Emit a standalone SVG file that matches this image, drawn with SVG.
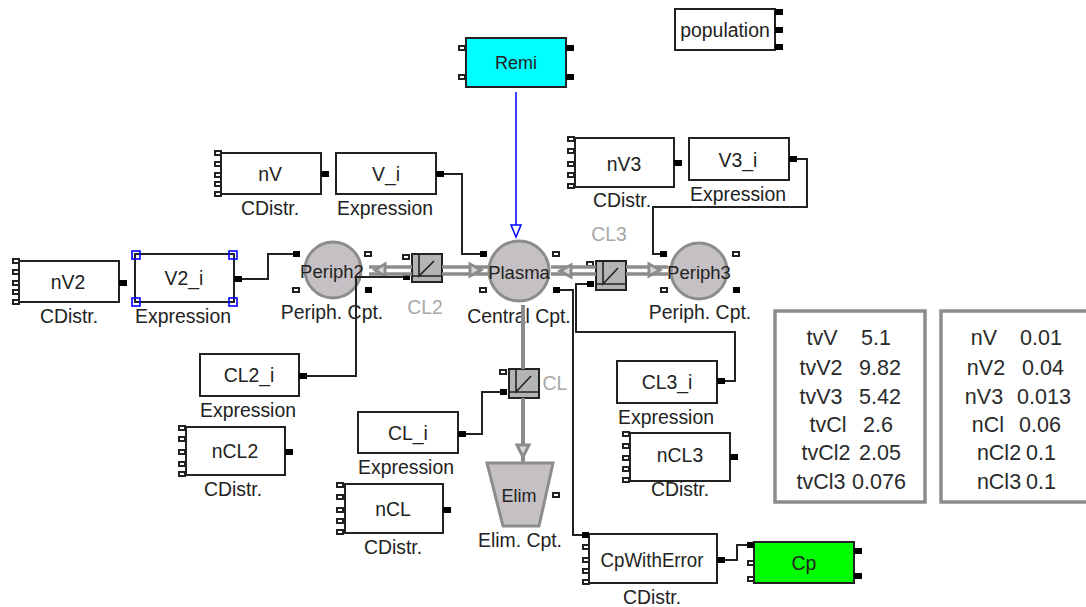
<svg xmlns="http://www.w3.org/2000/svg" width="1086" height="607" viewBox="0 0 1086 607">
<style>
text{font-family:"Liberation Sans",Arial,sans-serif;font-size:19.4px;fill:#222;text-anchor:middle}
.g{fill:#a8a8a8}
.box{fill:#fff;stroke:#222;stroke-width:2}
.cpt{fill:#c4c0c4;stroke:#8c8c8c;stroke-width:3}
.pw{fill:#fff;stroke:#222;stroke-width:2}
.pb{fill:#000}
.wire{fill:none;stroke:#222;stroke-width:2}
.flow{fill:none;stroke:#8c8c8c;stroke-width:3.4}
.head{fill:#d8d8d8;stroke:#8c8c8c;stroke-width:3}
.blk{fill:#b4b4b4;stroke:#222;stroke-width:2}
.sym{fill:none;stroke:#222;stroke-width:1.6}
.frame{fill:#fff;stroke:#8c8c8c;stroke-width:3.5}
.sel{fill:none;stroke:#0000ff;stroke-width:1.6}
.t text{font-size:21.5px;fill:#2a2a2a}
</style>
<g id="Remi"><rect class="box" x="466" y="38" width="100" height="49" style="fill:#00ffff"/><rect class="pw" x="459" y="46" width="6" height="4"/><rect class="pw" x="459" y="75" width="6" height="4"/><rect class="pb" x="566" y="45" width="8" height="6"/><rect class="pb" x="566" y="74" width="8" height="6"/><text x="516" y="69" style="font-size:18px">Remi</text></g>
<g id="population"><rect class="box" x="675" y="9" width="100" height="41"/><rect class="pb" x="775" y="9" width="8" height="6"/><rect class="pb" x="775" y="27" width="8" height="6"/><rect class="pb" x="775" y="44" width="8" height="6"/><text x="725" y="37">population</text></g>
<g id="nV"><rect class="box" x="221" y="153" width="100" height="41"/><rect class="pw" x="215" y="151" width="6" height="4"/><rect class="pw" x="215" y="162" width="6" height="4"/><rect class="pw" x="215" y="173" width="6" height="4"/><rect class="pw" x="215" y="182" width="6" height="4"/><rect class="pw" x="215" y="192" width="6" height="4"/><rect class="pb" x="321" y="171" width="8" height="6"/><text x="270" y="181">nV</text><text x="270" y="215">CDistr.</text></g>
<g id="V_i"><rect class="box" x="336" y="153" width="100" height="41"/><rect class="pb" x="436" y="171" width="8" height="6"/><text x="386" y="181">V_i</text><text x="385" y="215">Expression</text></g>
<g id="nV2"><rect class="box" x="19" y="261" width="100" height="41"/><rect class="pw" x="13" y="259" width="6" height="4"/><rect class="pw" x="13" y="270" width="6" height="4"/><rect class="pw" x="13" y="281" width="6" height="4"/><rect class="pw" x="13" y="290" width="6" height="4"/><rect class="pw" x="13" y="300" width="6" height="4"/><rect class="pb" x="119" y="280" width="8" height="6"/><text x="68" y="289">nV2</text><text x="69" y="323">CDistr.</text></g>
<g id="V2_i"><rect class="box" x="135" y="254" width="99" height="48"/><rect class="sel" x="132" y="251" width="8" height="8"/><rect class="sel" x="229" y="251" width="8" height="8"/><rect class="sel" x="132" y="298" width="8" height="8"/><rect class="sel" x="229" y="298" width="8" height="8"/><rect class="pb" x="234" y="276" width="8" height="6"/><text x="184" y="285">V2_i</text><text x="183" y="323">Expression</text></g>
<g id="Periph2"><circle class="cpt" cx="333" cy="270" r="28"/><rect class="pb" x="293" y="251" width="7" height="6"/><rect class="pw" x="365" y="252" width="6" height="4"/><rect class="pw" x="293" y="288" width="6" height="4"/><rect class="pb" x="365" y="287" width="7" height="6"/><text x="332" y="278" style="font-size:18.5px">Periph2</text><text x="332" y="319">Periph. Cpt.</text></g>
<g id="Plasma"><circle class="cpt" cx="519" cy="271" r="30"/><rect class="pb" x="480" y="251" width="7" height="6"/><rect class="pw" x="553" y="252" width="6" height="4"/><rect class="pw" x="480" y="288" width="6" height="4"/><rect class="pb" x="553" y="287" width="7" height="6"/><text x="519" y="279" style="font-size:18.5px">Plasma</text><text x="519" y="323">Central Cpt.</text></g>
<g id="Periph3"><circle class="cpt" cx="699" cy="271" r="28"/><rect class="pb" x="660" y="251" width="7" height="6"/><rect class="pw" x="733" y="252" width="6" height="4"/><rect class="pw" x="661" y="288" width="6" height="4"/><rect class="pb" x="733" y="287" width="7" height="6"/><text x="699" y="279" style="font-size:18.5px">Periph3</text><text x="700" y="319">Periph. Cpt.</text></g>
<g id="nV3"><rect class="box" x="575" y="138" width="99" height="49"/><rect class="pw" x="568" y="137" width="6" height="4"/><rect class="pw" x="568" y="149" width="6" height="4"/><rect class="pw" x="568" y="162" width="6" height="4"/><rect class="pw" x="568" y="173" width="6" height="4"/><rect class="pw" x="568" y="184" width="6" height="4"/><rect class="pb" x="674" y="160" width="8" height="6"/><text x="624" y="171">nV3</text><text x="622" y="207">CDistr.</text></g>
<g id="V3_i"><rect class="box" x="689" y="138" width="100" height="42"/><rect class="pb" x="789" y="156" width="8" height="6"/><text x="738" y="167">V3_i</text><text x="738" y="201">Expression</text></g>
<g id="CL2"><rect class="blk" x="412" y="254" width="30" height="28"/><path class="sym" d="M412 276H442M419 254V276L434 261"/><rect class="pw" x="403" y="255" width="6" height="4"/><rect class="pb" x="403" y="274" width="7" height="6"/><text class="g" x="425" y="314">CL2</text></g>
<g id="CL3"><rect class="blk" x="596" y="261" width="30" height="29"/><path class="sym" d="M596 284H626M603 261V284L618 268"/><rect class="pw" x="587" y="262" width="6" height="4"/><rect class="pb" x="587" y="281" width="7" height="6"/><text class="g" x="609" y="241">CL3</text></g>
<g id="CL"><rect class="blk" x="509" y="369" width="30" height="29"/><path class="sym" d="M509 392H539M516 369V392L531 376"/><rect class="pw" x="500" y="370" width="6" height="4"/><rect class="pb" x="500" y="389" width="7" height="6"/><text class="g" x="555" y="390">CL</text></g>
<g id="CL2_i"><rect class="box" x="200" y="354" width="99" height="42"/><rect class="pb" x="299" y="373" width="8" height="6"/><text x="249" y="382">CL2_i</text><text x="248" y="417">Expression</text></g>
<g id="nCL2"><rect class="box" x="186" y="427" width="99" height="48"/><rect class="pw" x="179" y="426" width="6" height="4"/><rect class="pw" x="179" y="437" width="6" height="4"/><rect class="pw" x="179" y="450" width="6" height="4"/><rect class="pw" x="179" y="462" width="6" height="4"/><rect class="pw" x="179" y="472" width="6" height="4"/><rect class="pb" x="285" y="449" width="8" height="6"/><text x="235" y="458">nCL2</text><text x="233" y="496">CDistr.</text></g>
<g id="CL_i"><rect class="box" x="358" y="412" width="100" height="41"/><rect class="pb" x="458" y="431" width="8" height="6"/><text x="408" y="440">CL_i</text><text x="406" y="474">Expression</text></g>
<g id="nCL"><rect class="box" x="345" y="484" width="98" height="49"/><rect class="pw" x="337" y="483" width="6" height="4"/><rect class="pw" x="337" y="495" width="6" height="4"/><rect class="pw" x="337" y="508" width="6" height="4"/><rect class="pw" x="337" y="519" width="6" height="4"/><rect class="pw" x="337" y="530" width="6" height="4"/><rect class="pb" x="443" y="507" width="8" height="6"/><text x="393" y="516">nCL</text><text x="393" y="554">CDistr.</text></g>
<g id="Elim"><path class="cpt" d="M487 463H553L539 526H503Z"/><rect class="pw" x="553" y="493" width="6" height="4"/><text x="519" y="502" style="font-size:18px">Elim</text><text x="520" y="547">Elim. Cpt.</text></g>
<g id="CL3_i"><rect class="box" x="617" y="361" width="100" height="42"/><rect class="pb" x="717" y="378" width="8" height="6"/><text x="667" y="389">CL3_i</text><text x="666" y="424">Expression</text></g>
<g id="nCL3"><rect class="box" x="630" y="433" width="100" height="48"/><rect class="pw" x="623" y="432" width="6" height="4"/><rect class="pw" x="623" y="444" width="6" height="4"/><rect class="pw" x="623" y="456" width="6" height="4"/><rect class="pw" x="623" y="467" width="6" height="4"/><rect class="pw" x="623" y="478" width="6" height="4"/><rect class="pb" x="730" y="454" width="8" height="6"/><text x="680" y="462">nCL3</text><text x="680" y="496">CDistr.</text></g>
<g id="CpWithError"><rect class="box" x="589" y="534" width="128" height="49"/><rect class="pb" x="582" y="532" width="7" height="6"/><rect class="pw" x="583" y="545" width="6" height="4"/><rect class="pw" x="583" y="558" width="6" height="4"/><rect class="pw" x="583" y="569" width="6" height="4"/><rect class="pw" x="583" y="580" width="6" height="4"/><rect class="pb" x="717" y="557" width="8" height="6"/><text x="652" y="567" textLength="103" lengthAdjust="spacingAndGlyphs">CpWithError</text><text x="652" y="604">CDistr.</text></g>
<g id="Cp"><rect class="box" x="754" y="542" width="100" height="41" style="fill:#00ff00"/><rect class="pb" x="747" y="542" width="7" height="6"/><rect class="pw" x="748" y="561" width="6" height="4"/><rect class="pw" x="748" y="577" width="6" height="4"/><rect class="pb" x="854" y="548" width="8" height="6"/><rect class="pb" x="854" y="573" width="8" height="6"/><text x="804" y="570">Cp</text></g>
<g id="connectors">
<path class="flow" d="M369 267H412M369 274H412M442 267H488M442 274H488"/>
<path class="head" d="M385 264L375 270L385 276Z"/>
<path class="head" d="M470 264L481 270L470 276Z"/>
<path class="flow" d="M551 267H596M551 274H596M626 267H668M626 274H668"/>
<path class="head" d="M571 265L560 271L571 277Z"/>
<path class="head" d="M649 264L660 270L649 276Z"/>
<path class="flow" d="M523 305V369M523 398V463" style="stroke-width:4"/>
<path class="head" d="M517 445H529L523 457Z"/>
<path d="M516 92V226" fill="none" stroke="#0000ff" stroke-width="1.5"/>
<path d="M511 225H521L516 237Z" fill="#fff" stroke="#0000ff" stroke-width="1.5"/>
<path class="wire" d="M242 279H268V254H293"/>
<path class="wire" d="M444 174H462V254H480"/>
<path class="wire" d="M403 277H356V376H307"/>
<path class="wire" d="M797 159H807V207H653V254H660"/>
<path class="wire" d="M587 284H576V332H735V381H725"/>
<path class="wire" d="M560 290H573V535H582"/>
<path class="wire" d="M500 392H482V434H466"/>
<path class="wire" d="M725 560H737V545H747"/>
</g>
<g id="table-tv" class="t"><rect class="frame" x="775" y="311" width="150" height="191"/>
<text y="345"><tspan x="822">tvV</tspan><tspan x="876">5.1</tspan></text>
<text y="375"><tspan x="821">tvV2</tspan><tspan x="880">9.82</tspan></text>
<text y="404"><tspan x="821">tvV3</tspan><tspan x="880">5.42</tspan></text>
<text y="432"><tspan x="828">tvCl</tspan><tspan x="878">2.6</tspan></text>
<text y="460"><tspan x="826">tvCl2</tspan><tspan x="880">2.05</tspan></text>
<text y="489"><tspan x="821">tvCl3</tspan><tspan x="879">0.076</tspan></text></g>
<g id="table-n" class="t"><rect class="frame" x="941" y="311" width="147" height="191"/>
<text y="345"><tspan x="984">nV</tspan><tspan x="1041">0.01</tspan></text>
<text y="375"><tspan x="986">nV2</tspan><tspan x="1043">0.04</tspan></text>
<text y="404"><tspan x="984">nV3</tspan><tspan x="1044">0.013</tspan></text>
<text y="432"><tspan x="988">nCl</tspan><tspan x="1040">0.06</tspan></text>
<text y="460"><tspan x="999">nCl2</tspan><tspan x="1041">0.1</tspan></text>
<text y="489"><tspan x="999">nCl3</tspan><tspan x="1041">0.1</tspan></text></g>
</svg>
